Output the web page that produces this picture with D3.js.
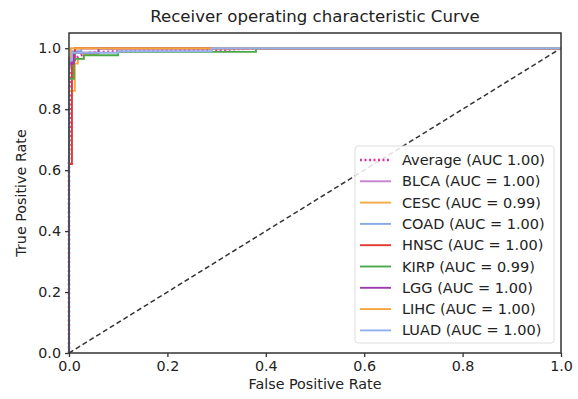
<!DOCTYPE html>
<html>
<head>
<meta charset="utf-8">
<script src="https://cdn.jsdelivr.net/npm/d3@7"></script>
<style>
  body { margin: 0; background: #fff; }
  text { font-family: "DejaVu Sans", sans-serif; fill: #222; }
</style>
</head>
<body>
<div id="chart"></div>
<script>
const W = 578, H = 399;

// ROC data
const classNames = ["BLCA", "CESC", "COAD", "HNSC", "KIRP", "LGG", "LIHC", "LUAD"];
const aucValues = ["1.00", "0.99", "1.00", "1.00", "0.99", "1.00", "1.00", "1.00"];
const classColors = ["#c77fcf", "#f5a945", "#86a8e6", "#e03a2f", "#4aa94a", "#9a3db0", "#f5a53e", "#93b0ea"];

const avgFpr = [0, 0, 0.005, 0.01, 0.02, 0.04, 0.1, 0.29, 0.38, 1];
const avgTpr = [0, 0.62, 0.93, 0.96, 0.975, 0.985, 0.99, 0.993, 1, 1];

const fprBLCA = [0, 0, 0.004, 0.004, 0.012, 0.012, 1];
const tprBLCA = [0, 0.94, 0.94, 0.985, 0.985, 1, 1];
const fprCESC = [0, 0, 0.012, 0.012, 0.018, 0.018, 0.03, 0.03, 0.06, 0.06, 1];
const tprCESC = [0, 0.86, 0.86, 0.95, 0.95, 0.965, 0.965, 0.98, 0.98, 1, 1];
const fprCOAD = [0, 0, 0.008, 0.008, 0.025, 0.025, 1];
const tprCOAD = [0, 0.96, 0.96, 0.99, 0.99, 1, 1];
const fprHNSC = [0, 0, 0.006, 0.006, 0.012, 0.012, 1];
const tprHNSC = [0, 0.62, 0.62, 0.96, 0.96, 1, 1];
const fprKIRP = [0, 0, 0.01, 0.01, 0.03, 0.03, 0.1, 0.1, 0.38, 0.38, 1];
const tprKIRP = [0, 0.9, 0.9, 0.965, 0.965, 0.977, 0.977, 0.988, 0.988, 1, 1];
const fprLGG = [0, 0, 0.01, 0.01, 0.06, 0.06, 1];
const tprLGG = [0, 0.95, 0.95, 0.985, 0.985, 1, 1];
const fprLIHC = [0, 0, 0.004, 0.004, 1];
const tprLIHC = [0, 0.97, 0.97, 1, 1];
const fprLUAD = [0, 0, 0.006, 0.006, 0.1, 0.1, 0.29, 0.29, 1];
const tprLUAD = [0, 0.96, 0.96, 0.985, 0.985, 0.99, 0.99, 1, 1];

const fprs = [fprBLCA, fprCESC, fprCOAD, fprHNSC, fprKIRP, fprLGG, fprLIHC, fprLUAD];
const tprs = [tprBLCA, tprCESC, tprCOAD, tprHNSC, tprKIRP, tprLGG, tprLIHC, tprLUAD];

const tickVals = [0, 0.2, 0.4, 0.6, 0.8, 1.0];

const margin = { left: 69, right: 17, top: 33, bottom: 46 };
const fs = 14.3;

const svg = d3.select("#chart")
  .append("svg")
  .attr("width", W)
  .attr("height", H);

// Scales
const x = d3.scaleLinear().domain([0, 1]).range([margin.left, W - margin.right]);
const y = d3.scaleLinear().domain([0, 1.05]).range([H - margin.bottom, margin.top]);

const line = d3.line().x(d => x(d[0])).y(d => y(d[1]));

// chance line
svg.append("path")
  .attr("d", line([[0, 0], [1, 1]]))
  .attr("fill", "none")
  .attr("stroke", "#333")
  .attr("stroke-width", 1.5)
  .attr("stroke-dasharray", "5,3");

// class curves
const curves = classNames.map((c, i) => fprs[i].map((f, j) => [f, tprs[i][j]]));

// average first, like the legend
svg.append("path")
  .attr("d", line(avgFpr.map((f, j) => [f, avgTpr[j]])))
  .attr("fill", "none")
  .attr("stroke", "#e8309a")
  .attr("stroke-width", 2.5)
  .attr("stroke-dasharray", "2,2.5");

svg.selectAll("path.roc")
  .data(curves)
  .enter()
  .append("path")
  .attr("class", "roc")
  .attr("d", line)
  .attr("fill", "none")
  .attr("stroke", (d, i) => classColors[i])
  .attr("stroke-width", 1.9);

// Axes
svg.append("g")
  .attr("transform", "translate(0," + y(0) + ")")
  .call(d3.axisBottom(x).tickValues(tickVals).tickFormat(d3.format(".1f")).tickSize(4).tickPadding(4))
  .call(g => g.select(".domain").remove())
  .call(g => g.selectAll("text").attr("font-size", fs).style("fill", "#222"))
  .call(g => g.selectAll("line").attr("stroke", "#333").attr("stroke-width", 1.3));

svg.append("g")
  .attr("transform", "translate(" + x(0) + ",0)")
  .call(d3.axisLeft(y).tickValues(tickVals).tickFormat(d3.format(".1f")).tickSize(4).tickPadding(4))
  .call(g => g.select(".domain").remove())
  .call(g => g.selectAll("text").attr("font-size", fs).style("fill", "#222"))
  .call(g => g.selectAll("line").attr("stroke", "#333").attr("stroke-width", 1.3));

// frame
svg.append("rect")
  .attr("x", x(0))
  .attr("y", y(1.05))
  .attr("width", x(1) - x(0))
  .attr("height", y(0) - y(1.05))
  .attr("fill", "none")
  .attr("stroke", "#333")
  .attr("stroke-width", 1.5);

// labels
svg.append("text")
  .attr("x", (x(0) + x(1)) / 2)
  .attr("y", 22)
  .attr("text-anchor", "middle")
  .attr("font-size", 16.6)
  .text("Receiver operating characteristic Curve");

svg.append("text")
  .attr("x", (x(0) + x(1)) / 2)
  .attr("y", 389)
  .attr("text-anchor", "middle")
  .attr("font-size", fs)
  .text("False Positive Rate");

svg.append("text")
  .attr("transform", "translate(26," + ((y(0) + y(1.05)) / 2) + ") rotate(-90)")
  .attr("text-anchor", "middle")
  .attr("font-size", fs)
  .text("True Positive Rate");

// legend
const legX = 355, legY = 146, rowH = 21.3;
const legItems = [{ name: "Average (AUC 1.00)", color: "#e8309a", avg: true }]
  .concat(classNames.map((c, i) => ({ name: c + " (AUC = " + aucValues[i] + ")", color: classColors[i] })));

svg.append("rect")
  .attr("x", legX)
  .attr("y", legY)
  .attr("width", 199)
  .attr("height", 197)
  .attr("rx", 3)
  .attr("fill", "#fff")
  .attr("fill-opacity", 0.85)
  .attr("stroke", "#ddd");

const leg = svg.selectAll("g.leg")
  .data(legItems)
  .enter()
  .append("g")
  .attr("class", "leg")
  .attr("transform", (d, i) => "translate(" + legX + "," + (legY + 14 + i * rowH) + ")");

leg.append("line")
  .attr("x1", 5)
  .attr("x2", 36)
  .attr("stroke", d => d.color)
  .attr("stroke-width", d => d.avg ? 2.5 : 1.9)
  .attr("stroke-dasharray", d => d.avg ? "2,2.5" : null);

leg.append("text")
  .attr("x", 47)
  .attr("dy", "0.35em")
  .attr("font-size", 14.5)
  .text(d => d.name);
</script>
</body>
</html>
